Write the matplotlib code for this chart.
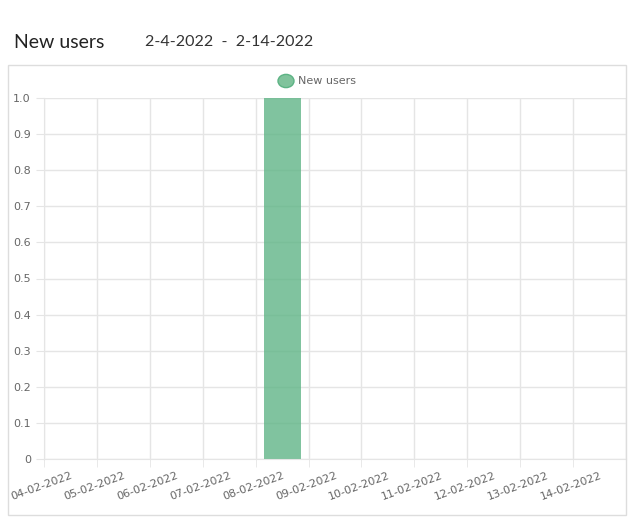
import matplotlib
matplotlib.use('Agg')
import matplotlib.pyplot as plt
from matplotlib.patches import Rectangle, Circle

# Data
dates = ['04-02-2022', '05-02-2022', '06-02-2022', '07-02-2022', '08-02-2022',
         '09-02-2022', '10-02-2022', '11-02-2022', '12-02-2022', '13-02-2022',
         '14-02-2022']
new_users = [0, 0, 0, 0, 1, 0, 0, 0, 0, 0, 0]
y_ticks = [0, 0.1, 0.2, 0.3, 0.4, 0.5, 0.6, 0.7, 0.8, 0.9, 1.0]
y_labels = ['0', '0.1', '0.2', '0.3', '0.4', '0.5', '0.6', '0.7', '0.8', '0.9', '1.0']

W, H = 637, 526
fig = plt.figure(figsize=(W / 100, H / 100), dpi=100)

# card border
fig.patches.append(Rectangle((8 / W, 1 - 515 / H), 618 / W, 450 / H,
                             transform=fig.transFigure, fill=False,
                             edgecolor='#dddddd', linewidth=1, zorder=10))

fig.text(14 / W, 1 - 42 / H, 'New users', fontsize=14, color='#222222',
         family='Lato', va='center')
fig.text(145 / W, 1 - 42 / H, '2-4-2022  -  2-14-2022', fontsize=11.5,
         color='#333333', family='Lato', va='center')

ax = fig.add_axes([44 / W, 1 - 459 / H, 582 / W, 361 / H])
x = list(range(len(dates)))
ax.bar(x, new_users, width=0.70, color='#5cb384', alpha=0.78,
       edgecolor='#5cb384', linewidth=0)
ax.set_xlim(-0.5, len(dates) - 0.5)
ax.set_ylim(0, 1.0)

ax.set_yticks(y_ticks)
ax.set_yticklabels(y_labels, fontsize=8, color='#666666')
ax.set_xticks(x)
ax.set_xticklabels(dates, fontsize=8, color='#666666', rotation=20, ha='right',
                   rotation_mode='anchor')
ax.set_xticks([i - 0.5 for i in range(len(dates) + 1)], minor=True)
ax.tick_params(axis='x', which='major', length=0, pad=8)
ax.tick_params(axis='x', which='minor', length=6, color='#e5e5e5')
ax.tick_params(axis='y', length=6, color='#e5e5e5')
ax.grid(True, axis='y', color='#e5e5e5', linewidth=1)
ax.grid(True, axis='x', which='minor', color='#e5e5e5', linewidth=1)
ax.set_axisbelow(True)
for s in ['top', 'right']:
    ax.spines[s].set_visible(False)
ax.spines['left'].set_color('#e5e5e5')
ax.spines['bottom'].set_color('#e5e5e5')

# legend
fig.patches.append(Circle((286 / W, 1 - 81 / H), 8 / W, transform=fig.transFigure,
                          facecolor='#80c39c', edgecolor='#5cb384'))
fig.text(298 / W, 1 - 81 / H, 'New users', fontsize=8, color='#666666', va='center')

fig.savefig('out.png', dpi=100)
